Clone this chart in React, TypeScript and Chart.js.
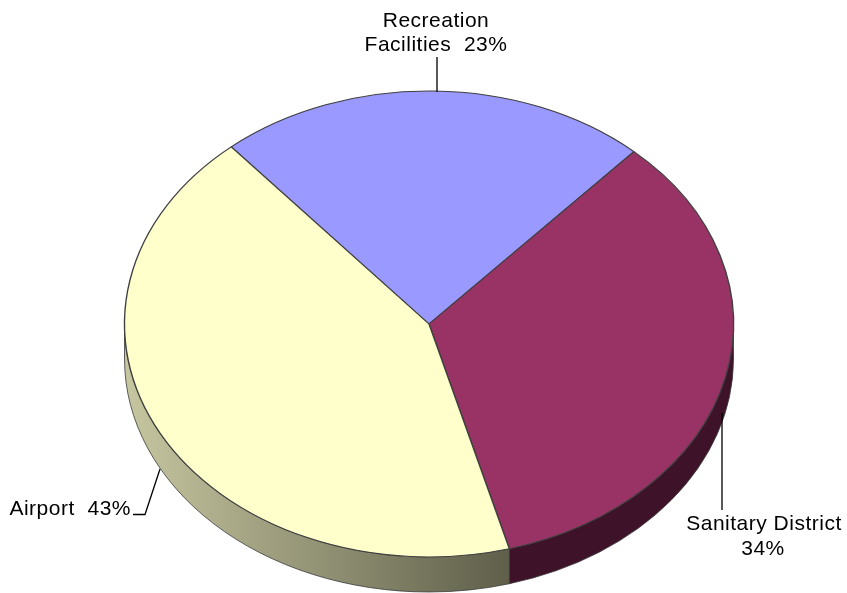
import React, { useEffect, useRef } from "react";
import { Chart, registerables } from "chart.js";

Chart.register(...registerables);

const categories = ["Recreation Facilities", "Sanitary District", "Airport"];
const shares = [23, 34, 43];
const topColors = ["#9999FF", "#993366", "#FFFFCC"];
const sideColors: [string, string][] = [
  ["#5C5C99", "#3A3A66"],
  ["#3A1127", "#3E1329"],
  ["#C6C6A0", "#5C5C48"],
];
const labelLines = [["Recreation", "Facilities  23%"], ["Sanitary District", "34%"], ["Airport  43%"]];

const RX = 304.5;
const RY = 233;
const DEPTH = 35;

const pie3d = {
  id: "pie3d",
  beforeDatasetsDraw(chart: any) {
    const meta = chart.getDatasetMeta(0);
    const arcs = meta.data;
    if (!arcs.length) return;
    const { x: cx, y: cy, outerRadius: R } = arcs[0];
    const ctx = chart.ctx as CanvasRenderingContext2D;
    ctx.save();
    arcs.forEach((arc: any, i: number) => {
      const s = arc.startAngle;
      const e = arc.endAngle;
      for (let k = -2; k <= 2; k++) {
        const lo = Math.max(s, 2 * Math.PI * k);
        const hi = Math.min(e, 2 * Math.PI * k + Math.PI);
        if (hi <= lo) continue;
        const grad = ctx.createLinearGradient(cx - RX, 0, cx + RX * 0.3, 0);
        grad.addColorStop(0, sideColors[i][0]);
        grad.addColorStop(1, sideColors[i][1]);
        ctx.beginPath();
        ctx.ellipse(cx, cy, RX, RY, 0, lo, hi, false);
        ctx.lineTo(cx + RX * Math.cos(hi), cy + RY * Math.sin(hi) + DEPTH);
        ctx.ellipse(cx, cy + DEPTH, RX, RY, 0, hi, lo, true);
        ctx.closePath();
        ctx.fillStyle = grad;
        ctx.fill();
        ctx.strokeStyle = "#3a3a3a";
        ctx.lineWidth = 0.8;
        ctx.stroke();
      }
    });
    ctx.restore();
    ctx.save();
    ctx.translate(cx, cy);
    ctx.scale(RX / R, RY / R);
    ctx.translate(-cx, -cy);
  },
  afterDatasetsDraw(chart: any) {
    const ctx = chart.ctx as CanvasRenderingContext2D;
    ctx.restore();
    ctx.save();
    ctx.strokeStyle = "#000";
    ctx.lineWidth = 1.3;
    ctx.beginPath();
    ctx.moveTo(437, 57);
    ctx.lineTo(437, 92);
    ctx.moveTo(722, 413);
    ctx.lineTo(722, 510);
    ctx.moveTo(133, 514.5);
    ctx.lineTo(145, 514.5);
    ctx.lineTo(160, 469);
    ctx.stroke();
    ctx.fillStyle = "#000";
    ctx.font = '21px "Liberation Sans", Arial, sans-serif';
    (ctx as any).letterSpacing = "0.5px";
    ctx.textBaseline = "alphabetic";
    ctx.textAlign = "center";
    ctx.fillText(labelLines[0][0], 436, 27);
    ctx.fillText(labelLines[0][1], 436, 51);
    ctx.fillText(labelLines[1][0], 764, 530);
    ctx.fillText(labelLines[1][1], 763, 555);
    ctx.textAlign = "right";
    ctx.fillText(labelLines[2][0], 131, 515);
    ctx.restore();
  },
};

export default function App() {
  const ref = useRef<HTMLCanvasElement>(null);
  useEffect(() => {
    document.body.style.margin = "0";
    const chart = new Chart(ref.current as HTMLCanvasElement, {
      type: "pie",
      data: {
        labels: categories,
        datasets: [
          {
            data: shares,
            backgroundColor: topColors,
            borderColor: "#404040",
            borderWidth: 1,
          },
        ],
      },
      options: {
        animation: false,
        responsive: false,
        rotation: -40.5,
        layout: { padding: { left: 209, right: 198, top: 104, bottom: 49 } },
        plugins: { legend: { display: false }, tooltip: { enabled: false } },
      },
      plugins: [pie3d],
    });
    return () => chart.destroy();
  }, []);
  return (
    <div style={{ width: 847, height: 593 }}>
      <canvas ref={ref} width={847} height={593} style={{ width: 847, height: 593 }} />
    </div>
  );
}
